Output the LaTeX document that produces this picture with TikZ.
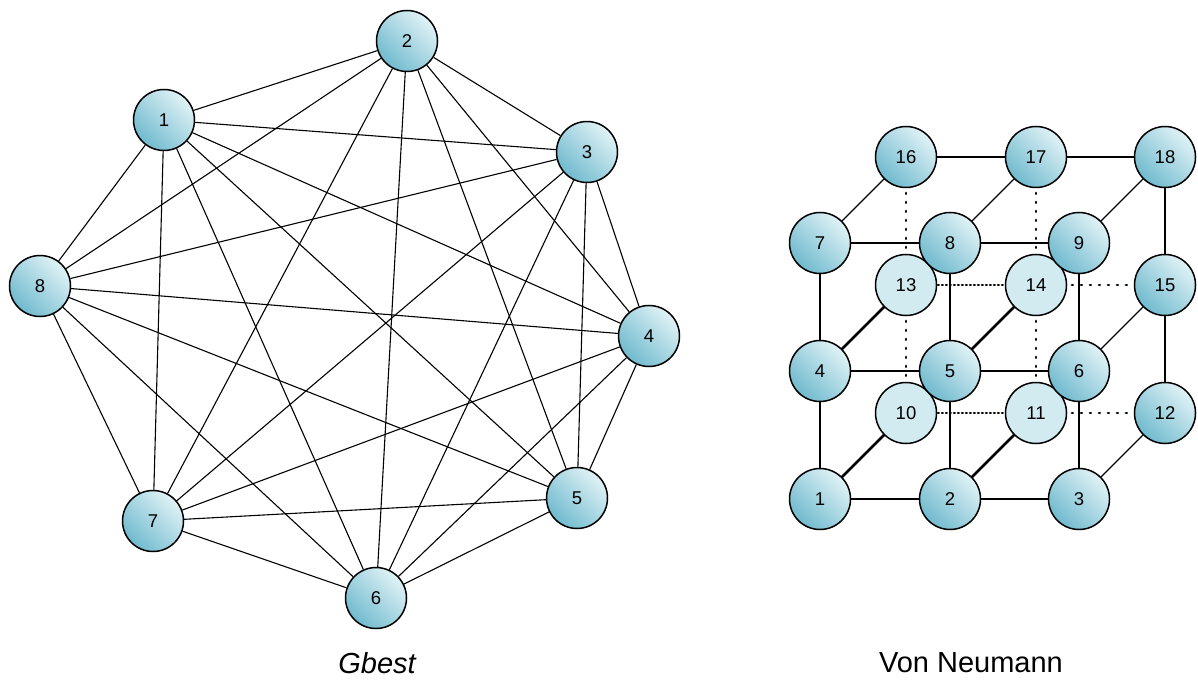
\documentclass[tikz,border=0pt]{standalone}
\usepackage{fontspec}
\setmainfont{Liberation Sans}
\definecolor{ndark}{RGB}{112,186,206}
\definecolor{nlight}{RGB}{224,242,246}
\definecolor{nflat}{RGB}{210,235,240}
\tikzset{
  pnode/.style={circle, draw=black, line width=1.5pt, minimum size=61pt, inner sep=0pt,
    shading=axis, left color=ndark, right color=nlight, shading angle=135, font=\fontsize{18.5}{18.5}\selectfont},
  bnode/.style={circle, draw=black, line width=1.5pt, minimum size=61pt, inner sep=0pt,
    fill=nflat, font=\fontsize{18.5}{18.5}\selectfont},
  edge/.style={line width=1.1pt},
  thickedge/.style={line width=2.8pt},
  looseedge/.style={line width=2.8pt, line cap=round, dash pattern=on 0.8pt off 8.2pt},
  denseedge/.style={line width=2.5pt, line cap=round, dash pattern=on 0.8pt off 3.2pt},
}
\begin{document}
\begin{tikzpicture}[x=1pt,y=-1pt]
\useasboundingbox (0,0) rectangle (1198,684);
% Gbest nodes
\node[pnode] (g1) at (164,120) {1};
\node[pnode] (g2) at (407,41) {2};
\node[pnode] (g3) at (587,152) {3};
\node[pnode] (g4) at (649,336) {4};
\node[pnode] (g5) at (577,498) {5};
\node[pnode] (g6) at (376,598) {6};
\node[pnode] (g7) at (153,521) {7};
\node[pnode] (g8) at (40,286) {8};
\foreach \a/\b in {1/2,1/3,1/4,1/5,1/6,1/7,1/8,2/3,2/4,2/5,2/6,2/7,2/8,3/4,3/5,3/6,3/7,3/8,4/5,4/6,4/7,4/8,5/6,5/7,5/8,6/7,6/8,7/8}
  \draw[edge] (g\a) -- (g\b);
\node[font=\fontsize{29}{29}\selectfont\itshape] (gl) at (377,663) {Gbest};
% Von Neumann coordinates
\coordinate (c1) at (820,499);
\coordinate (c2) at (950,499);
\coordinate (c3) at (1079,499);
\coordinate (c4) at (820,371);
\coordinate (c5) at (950,371);
\coordinate (c6) at (1079,371);
\coordinate (c7) at (820,243);
\coordinate (c8) at (950,243);
\coordinate (c9) at (1079,243);
\coordinate (c10) at (906,413);
\coordinate (c11) at (1036,413);
\coordinate (c12) at (1165,413);
\coordinate (c13) at (906,285);
\coordinate (c14) at (1036,285);
\coordinate (c15) at (1165,285);
\coordinate (c16) at (906,157);
\coordinate (c17) at (1036,157);
\coordinate (c18) at (1165,157);
% edges (drawn between centres, nodes on top)
\foreach \a/\b in {7/8,8/9,4/5,5/6,1/2,2/3,7/4,4/1,8/5,5/2,9/6,6/3,16/17,17/18,18/15,15/12,7/16,8/17,9/18,6/15,3/12}
  \draw[edge] (c\a) -- (c\b);
\foreach \a/\b in {4/13,5/14,1/10,2/11}
  \draw[thickedge] (c\a) -- (c\b);
\foreach \a/\b in {14/15,11/12,16/13,13/10,17/14,14/11}
  \draw[looseedge] (c\a) -- (c\b);
\foreach \a/\b in {13/14,10/11}
  \draw[denseedge] (c\a) -- (c\b);
% back nodes
\foreach \i in {16,17,18,15,12}
  \node[pnode] (v\i) at (c\i) {\i};
\foreach \i in {13,14,10,11}
  \node[bnode] (v\i) at (c\i) {\i};
% front nodes
\foreach \i in {1,...,9}
  \node[pnode] (v\i) at (c\i) {\i};
\node[font=\fontsize{29}{29}\selectfont] (vl) at (971,663) {Von Neumann};
\end{tikzpicture}
\end{document}
